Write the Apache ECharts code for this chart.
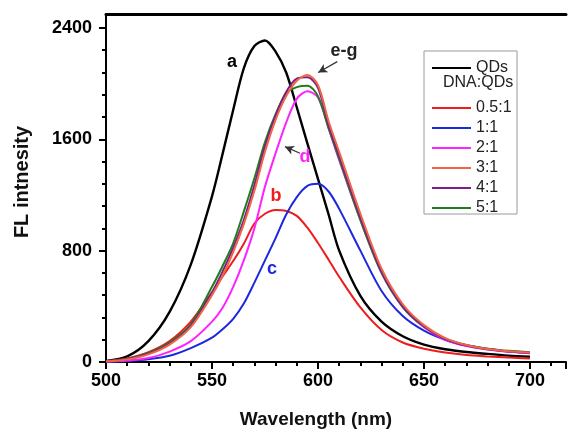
<!DOCTYPE html>
<html>
<head>
<meta charset="utf-8">
<script src="https://cdn.jsdelivr.net/npm/echarts@6/dist/echarts.min.js"></script>
<style>
  html, body { margin: 0; padding: 0; background: #fff; }
  #chart { width: 571px; height: 433px; }
</style>
</head>
<body>
<div id="chart"></div>
<script>
// wavelength grid (nm)
var wl = [500, 510, 520, 530, 540, 550, 555, 560, 565, 570, 575, 580, 585, 590, 595, 600, 605, 610, 620, 630, 640, 650, 660, 670, 680, 690, 700];

// FL intensity per sample
var qds = [8, 40, 150, 360, 700, 1190, 1495, 1811, 2110, 2270, 2310, 2230, 2080, 1830, 1570, 1315, 1060, 800, 475, 290, 185, 125, 92, 72, 58, 46, 38];
var r05 = [5, 25, 70, 150, 290, 500, 615, 725, 850, 995, 1065, 1092, 1085, 1050, 965, 855, 735, 612, 392, 230, 140, 95, 68, 50, 40, 32, 26];
var r1  = [2, 8, 20, 45, 100, 175, 235, 310, 420, 570, 730, 890, 1060, 1185, 1265, 1280, 1225, 1100, 800, 510, 330, 225, 160, 120, 95, 75, 62];
var r2  = [2, 10, 28, 75, 150, 290, 390, 540, 730, 960, 1260, 1500, 1720, 1890, 1945, 1900, 1680, 1450, 1020, 640, 395, 250, 160, 115, 90, 74, 64];
var r3  = [5, 18, 55, 125, 250, 480, 620, 790, 990, 1230, 1510, 1740, 1910, 2020, 2062, 1990, 1730, 1510, 1065, 670, 415, 265, 172, 122, 94, 78, 68];
var r4  = [5, 20, 60, 130, 260, 500, 650, 820, 1020, 1270, 1550, 1770, 1940, 2035, 2045, 1970, 1700, 1480, 1040, 650, 400, 258, 165, 118, 92, 76, 66];
var r5  = [5, 22, 65, 140, 270, 540, 690, 853, 1080, 1320, 1580, 1780, 1930, 1975, 1985, 1910, 1680, 1460, 1020, 640, 395, 255, 170, 122, 96, 80, 70];

// ticks
var xMajor = [500, 550, 600, 650, 700];
var yMajor = [0, 800, 1600, 2400];
var yMinor = [160, 320, 480, 640, 960, 1120, 1280, 1440, 1760, 1920, 2080, 2240];

function pairs(vals) {
  return wl.map(function (x, i) { return [x, vals[i]]; });
}

function line(name, color, vals, width) {
  return {
    name: name,
    type: 'line',
    data: pairs(vals),
    symbol: 'none',
    smooth: 0.3,
    lineStyle: { color: color, width: width || 2 },
    itemStyle: { color: color },
    z: 3
  };
}

var lblFont = { fontFamily: 'Liberation Sans, Arial', fontWeight: 'bold', fontSize: 18 };

var chart = echarts.init(document.getElementById('chart'), null, { renderer: 'canvas' });

var series = [
  line('QDs', '#000000', qds, 2.4),
  line('0.5:1', '#ee1c1c', r05),
  line('1:1', '#1c28e0', r1),
  line('2:1', '#ff22ff', r2),
  line('5:1', '#1e7e1e', r5),
  line('4:1', '#7a1f86', r4),
  line('3:1', '#f26448', r3)
];

// arrows for d and e-g
series[0].markLine = {
  silent: true,
  symbol: ['none', 'arrow'],
  symbolSize: [7, 9],
  label: { show: false },
  lineStyle: { color: '#333', width: 1.2, type: 'solid' },
  data: [
    [{ coord: [591.5, 1500] }, { coord: [584.4, 1547] }],
    [{ coord: [609.1, 2158] }, { coord: [600.1, 2079] }]
  ]
};

var X_MAX = 717;

var option = {
  animation: false,
  backgroundColor: '#fff',
  grid: { left: 106, top: 14, width: 460, height: 348 },
  xAxis: [
    {
      type: 'value', min: 500, max: X_MAX, interval: 50,
      axisLine: { onZero: false, lineStyle: { color: '#000', width: 2 } },
      axisTick: { length: 7, lineStyle: { color: '#000', width: 2 } },
      minorTick: { show: true, splitNumber: 5, length: 4, lineStyle: { color: '#000', width: 2 } },
      axisLabel: Object.assign({
        color: '#000', margin: 10, showMaxLabel: false,
        formatter: function (v) { return xMajor.indexOf(v) >= 0 ? String(v) : ''; }
      }, lblFont),
      splitLine: { show: false }
    },
    {
      type: 'value', min: 500, max: X_MAX, position: 'top',
      axisLine: { onZero: false, lineStyle: { color: '#000', width: 3 } },
      axisTick: { show: false },
      axisLabel: { show: false },
      splitLine: { show: false }
    }
  ],
  yAxis: [
    {
      type: 'value', min: 0, max: 2500, interval: 800,
      axisLine: { show: true, lineStyle: { color: '#000', width: 2 } },
      axisTick: { show: true, customValues: yMajor, length: 7, lineStyle: { color: '#000', width: 2 } },
      axisLabel: Object.assign({
        customValues: yMajor, color: '#000', margin: 14,
        formatter: function (v) { return String(v); }
      }, lblFont),
      splitLine: { show: false }
    },
    {
      type: 'value', min: 0, max: 2500, position: 'left',
      axisLine: { show: false },
      axisTick: { show: true, customValues: yMinor, length: 4, lineStyle: { color: '#000', width: 2 } },
      axisLabel: { show: false },
      splitLine: { show: false }
    }
  ],
  legend: [
    {
      data: ['QDs'],
      left: 427, top: 55, orient: 'vertical',
      icon: 'rect', itemWidth: 39, itemHeight: 2,
      textStyle: { fontFamily: 'Liberation Sans, Arial', fontSize: 16, color: '#222', lineHeight: 16 }
    },
    {
      data: ['0.5:1', '1:1', '2:1', '3:1', '4:1', '5:1'],
      left: 427, top: 95, orient: 'vertical', itemGap: 4,
      icon: 'rect', itemWidth: 39, itemHeight: 2,
      textStyle: { fontFamily: 'Liberation Sans, Arial', fontSize: 16, color: '#222', lineHeight: 16 }
    }
  ],
  graphic: [
    { type: 'rect', shape: { x: 424, y: 51, width: 93, height: 163 }, style: { fill: '#fff', stroke: '#9a9a9a', lineWidth: 1 }, z: 1 },
    { type: 'text', left: 443, top: 75, style: { text: 'DNA:QDs', font: '16px "Liberation Sans", Arial', fill: '#222' }, z: 5 },
    { type: 'text', x: 316, y: 420, style: { text: 'Wavelength (nm)', font: 'bold 19px "Liberation Sans", Arial', fill: '#111', align: 'center', verticalAlign: 'middle' } },
    { type: 'text', x: 22, y: 182, rotation: Math.PI / 2, style: { text: 'FL intnesity', font: 'bold 20px "Liberation Sans", Arial', fill: '#111', align: 'center', verticalAlign: 'middle' } },
    { type: 'text', x: 232, y: 62, style: { text: 'a', font: 'bold 18px "Liberation Sans", Arial', fill: '#000', align: 'center', verticalAlign: 'middle' }, z: 5 },
    { type: 'text', x: 276, y: 196, style: { text: 'b', font: 'bold 18px "Liberation Sans", Arial', fill: '#ee1c1c', align: 'center', verticalAlign: 'middle' }, z: 5 },
    { type: 'text', x: 272, y: 269, style: { text: 'c', font: 'bold 18px "Liberation Sans", Arial', fill: '#1c28e0', align: 'center', verticalAlign: 'middle' }, z: 5 },
    { type: 'text', x: 305, y: 157, style: { text: 'd', font: 'bold 18px "Liberation Sans", Arial', fill: '#ff22ff', align: 'center', verticalAlign: 'middle' }, z: 5 },
    { type: 'text', x: 344, y: 51, style: { text: 'e-g', font: 'bold 18px "Liberation Sans", Arial', fill: '#222', align: 'center', verticalAlign: 'middle' }, z: 5 }
  ],
  series: series
};

chart.setOption(option);
</script>
</body>
</html>
